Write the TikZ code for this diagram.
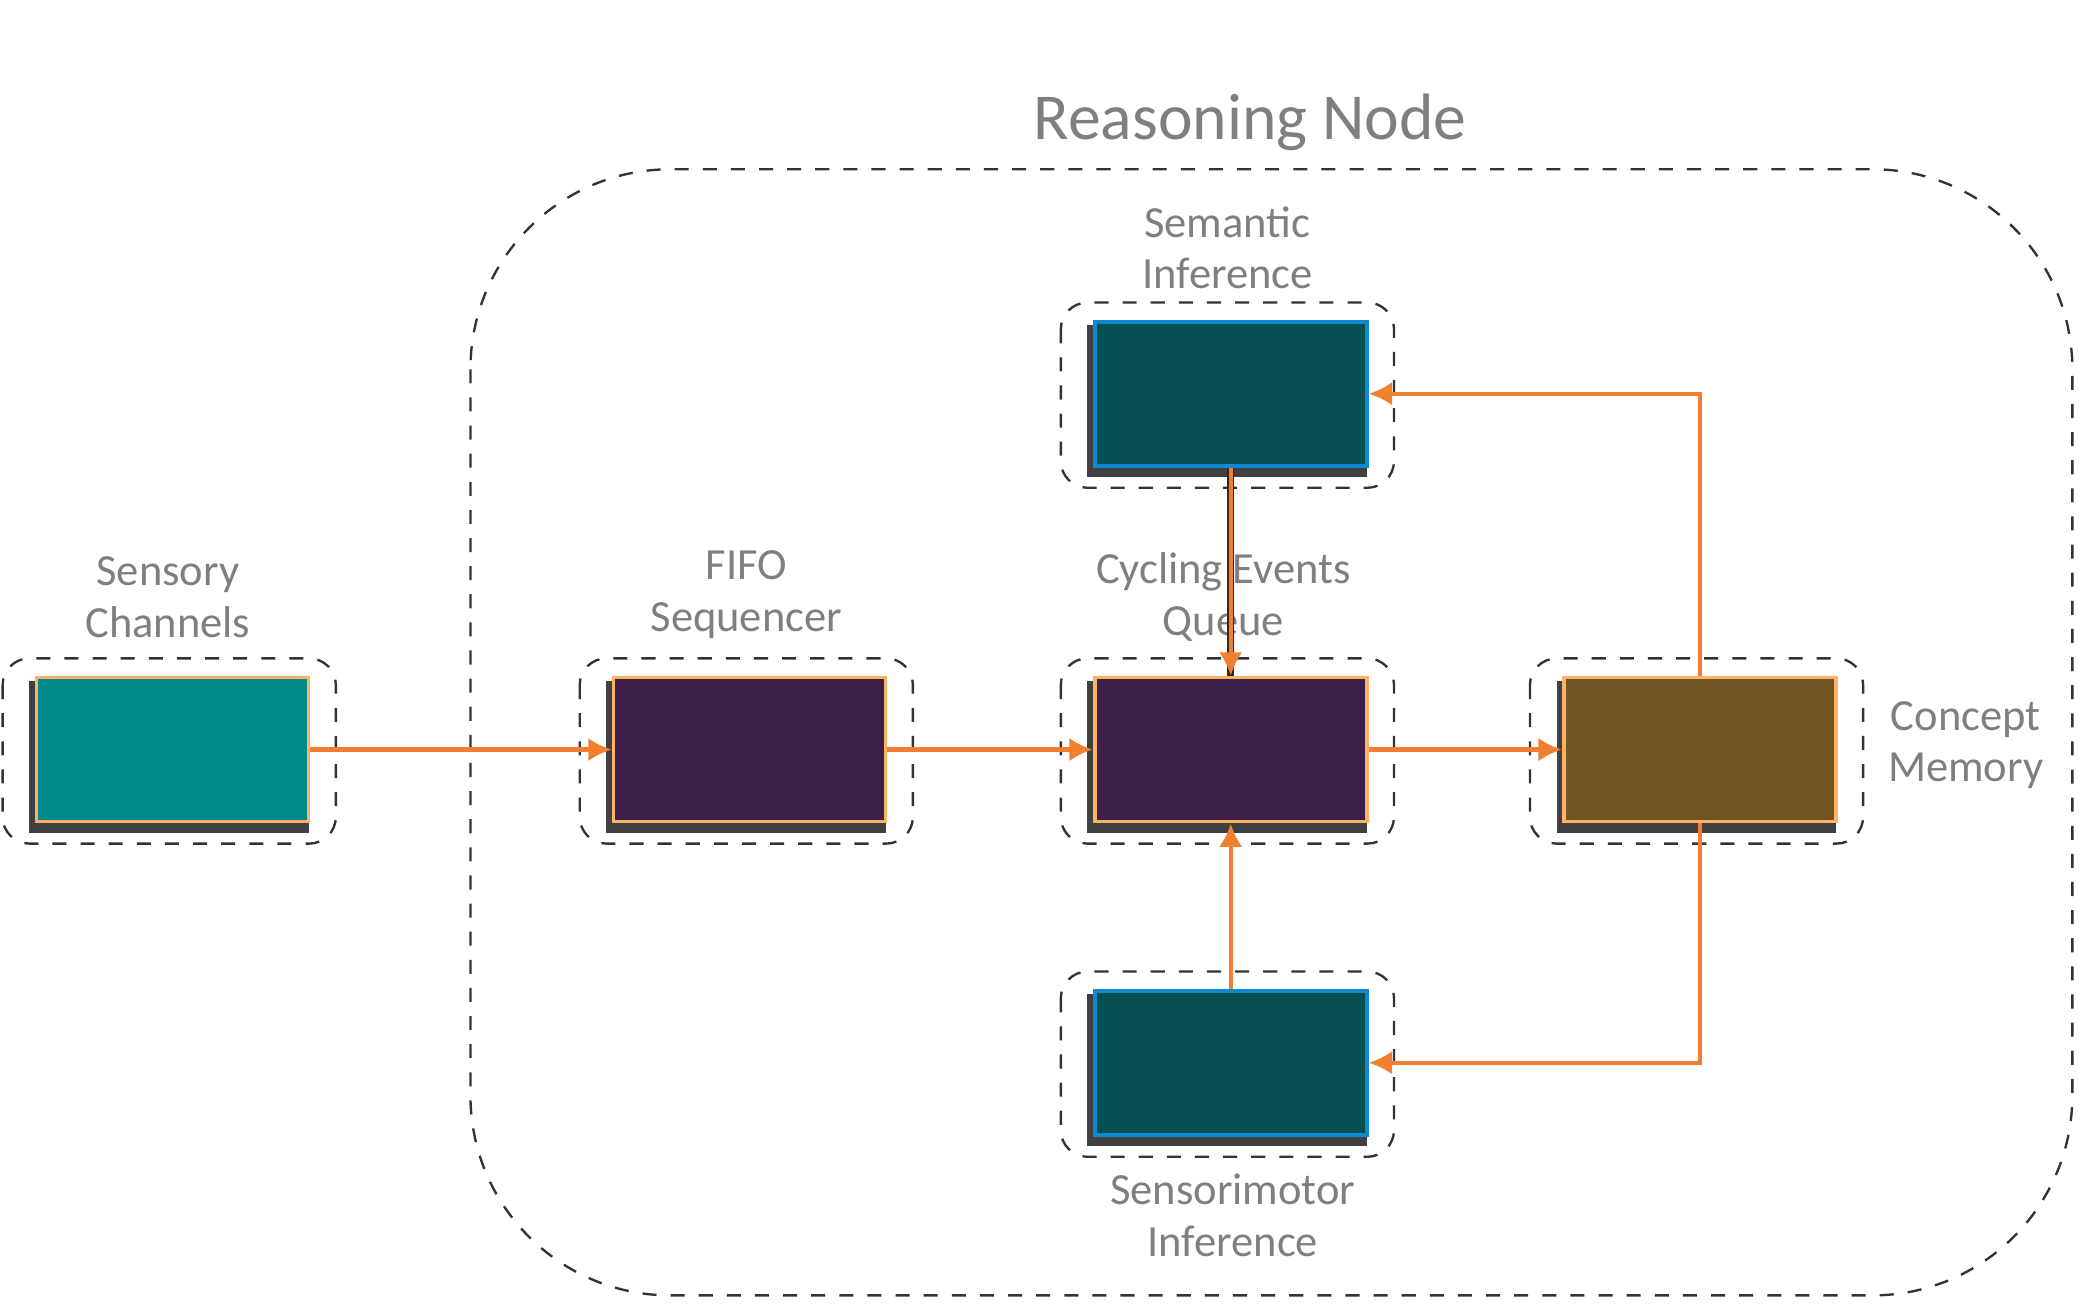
\documentclass[tikz,border=0pt]{standalone}
\usepackage{fontspec}
\setmainfont{Carlito}
\usetikzlibrary{arrows.meta}
\definecolor{txt}{HTML}{7F7F7F}
\definecolor{tealA}{HTML}{008B8B}
\definecolor{purp}{HTML}{3D1F4A}
\definecolor{brn}{HTML}{705522}
\definecolor{dteal}{HTML}{064F50}
\definecolor{org}{HTML}{F08030}
\begin{document}
\begin{tikzpicture}[x=0.01cm,y=-0.01cm,
  lbl/.style={text=txt,font=\fontsize{9.5}{11}\selectfont,align=center},
  outer/.style={draw=black!80,dashed,rounded corners=0.2cm,line width=0.5pt},
  blk/.style={line width=0.8pt},
  arr/.style={draw=org,line width=0.9pt,-{Latex[length=5pt,width=5pt]}}]
\useasboundingbox (0,0) rectangle (1560,978);
\node[text=txt,font=\fontsize{14}{16}\selectfont] (title) at (938,92) {Reasoning Node};
\draw[dashed,draw=black!80,rounded corners=1.5cm,line width=0.5pt] (353,127) rectangle (1555,972);
% blocks
\newcommand{\blkbox}[6]{% name, x, y, fill, border, outer y pad
  \draw[outer] (#2-24,#3-13) rectangle (#2+226,#3+126);
  \fill[black!75] (#2-4,#3+4) rectangle (#2+206,#3+118);
  \node[blk,draw=#5,fill=#4,minimum width=2.04cm,minimum height=1.08cm,anchor=north west,inner sep=0] (#1) at (#2,#3) {};
}
\blkbox{sens}{26}{507}{tealA}{orange!60}{}
\blkbox{fifo}{459}{507}{purp}{orange!60}{}
\blkbox{cyc}{820}{507}{purp}{orange!60}{}
\blkbox{con}{1172}{507}{brn}{orange!60}{}
\blkbox{sem}{820}{240}{dteal}{cyan!70!blue}{}
\blkbox{smi}{820}{742}{dteal}{cyan!70!blue}{}
\node[lbl] (lsens) at (126,448) {Sensory\\Channels};
\node[lbl] (lfifo) at (560,446) {FIFO\\Sequencer};
\node[lbl] (lcyc) at (918,448) {Cycling Events\\Queue};
\node[lbl] (lcon) at (1475,559) {Concept\\Memory};
\node[lbl] (lsem) at (921,186) {Semantic\\Inference};
\node[lbl] (lsmi) at (925,912) {Sensorimotor\\Inference};
\draw[arr] (sens.east) -- (fifo.west);
\draw[arr] (fifo.east) -- (cyc.west);
\draw[arr] (cyc.east) -- (con.west);
\draw[arr] (con.north) |- (sem.east);
\draw[arr] (con.south) |- (smi.east);
\draw[arr] (smi.north) -- (cyc.south);
\draw[draw=black!70!brown,line width=1.6pt] (sem.south) -- (cyc.north);
\draw[arr] (sem.south) -- (cyc.north);
\end{tikzpicture}
\end{document}
